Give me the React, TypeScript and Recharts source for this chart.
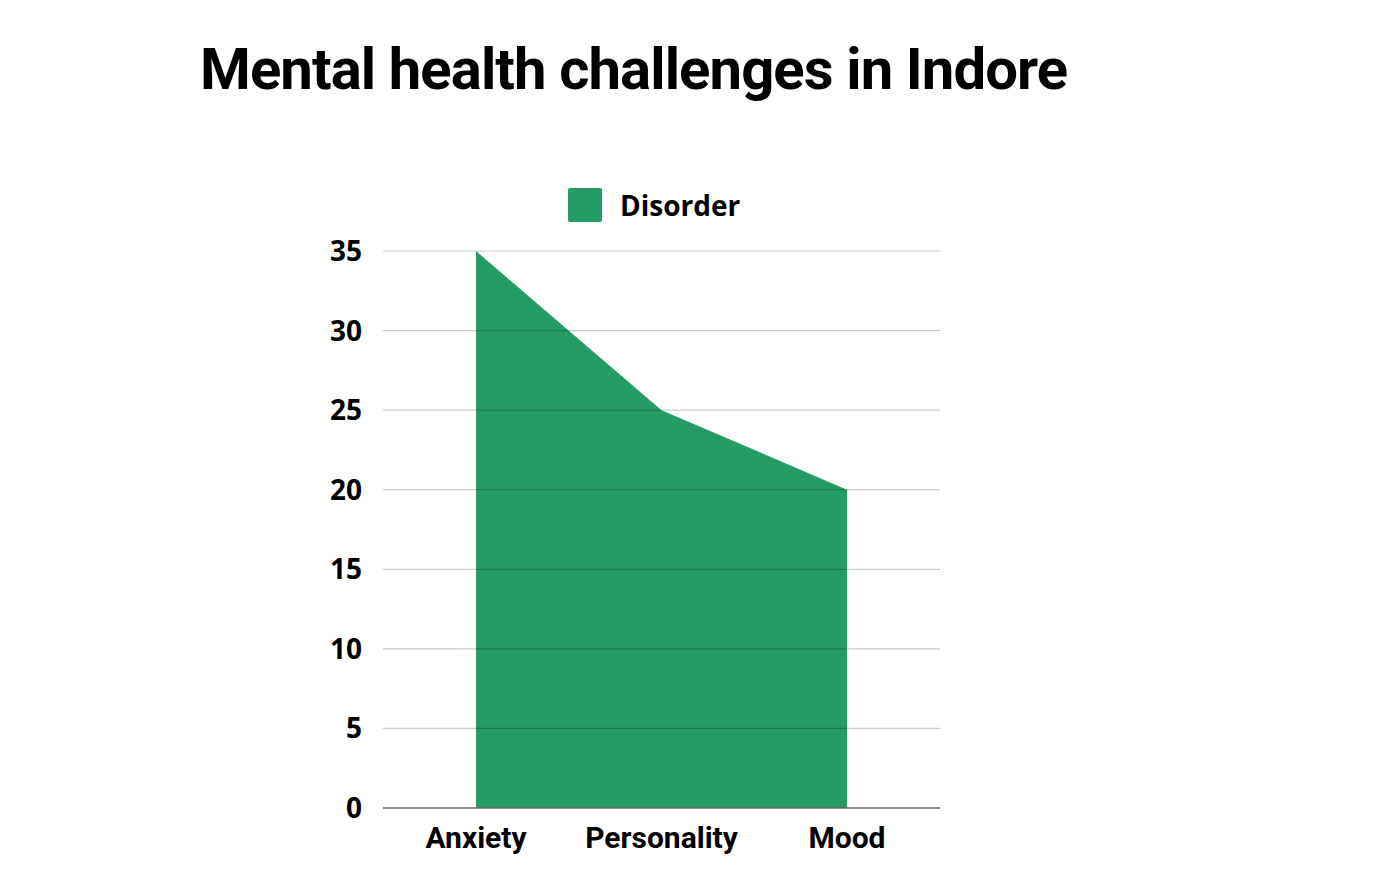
import { AreaChart, Area, XAxis, YAxis, ReferenceLine } from "recharts";

const categories = ["Anxiety", "Personality", "Mood"];
const disorderValues = [35, 25, 20];
const yTicks = [0, 5, 10, 15, 20, 25, 30, 35];
const seriesName = "Disorder";
const chartTitle = "Mental health challenges in Indore";

const GREEN = "#259b66";

const chartData = categories.map((name, i) => ({ name, disorder: disorderValues[i] }));

export default function App() {
  return (
    <div style={{ position: "relative", width: 1384, height: 859, background: "#fff" }}>
      <div
        style={{
          position: "absolute",
          left: 192,
          top: 32,
          fontFamily: "Roboto, sans-serif",
          fontWeight: 700,
          fontSize: 58,
          letterSpacing: -0.9,
          color: "#000",
          whiteSpace: "nowrap",
          lineHeight: 1,
        }}
      >
        {chartTitle}
      </div>

      {/* legend */}
      <div
        style={{
          position: "absolute",
          left: 560,
          top: 178,
          display: "flex",
          alignItems: "center",
          fontFamily: "'Open Sans', sans-serif",
          fontWeight: 700,
          fontSize: 28,
          color: "#000",
        }}
      >
        <span style={{ width: 34, height: 34, background: GREEN, borderRadius: 2, marginRight: 18 }} />
        <span>{seriesName}</span>
      </div>

      <div style={{ position: "absolute", left: 0, top: 0 }}>
        <AreaChart
          width={1384}
          height={859}
          data={chartData}
          margin={{ top: 243, right: 452, bottom: 29, left: 0 }}
        >
          <XAxis
            dataKey="name"
            padding={{ left: 93, right: 93 }}
            axisLine={{ stroke: "#666", strokeWidth: 1.5 }}
            tickLine={false}
            tickSize={0}
            tickMargin={19}
            tick={{ fill: "#000", fontFamily: "Roboto, sans-serif", fontWeight: 700, fontSize: 30 }}
          />
          <YAxis
            width={375}
            domain={[0, 35]}
            ticks={yTicks}
            interval={0}
            axisLine={false}
            tickLine={false}
            tickSize={0}
            tickMargin={21}
            tick={{ fill: "#000", fontFamily: "'Open Sans', sans-serif", fontWeight: 700, fontSize: 28 }}
          />
          <Area
            type="linear"
            dataKey="disorder"
            name={seriesName}
            stroke="none"
            fill={GREEN}
            fillOpacity={1}
            isAnimationActive={false}
          />
          {yTicks
            .filter((t) => t > 0)
            .map((t) => (
              <ReferenceLine key={t} y={t} stroke="#000" strokeOpacity={0.2} strokeWidth={1.2} />
            ))}
        </AreaChart>
      </div>
    </div>
  );
}
